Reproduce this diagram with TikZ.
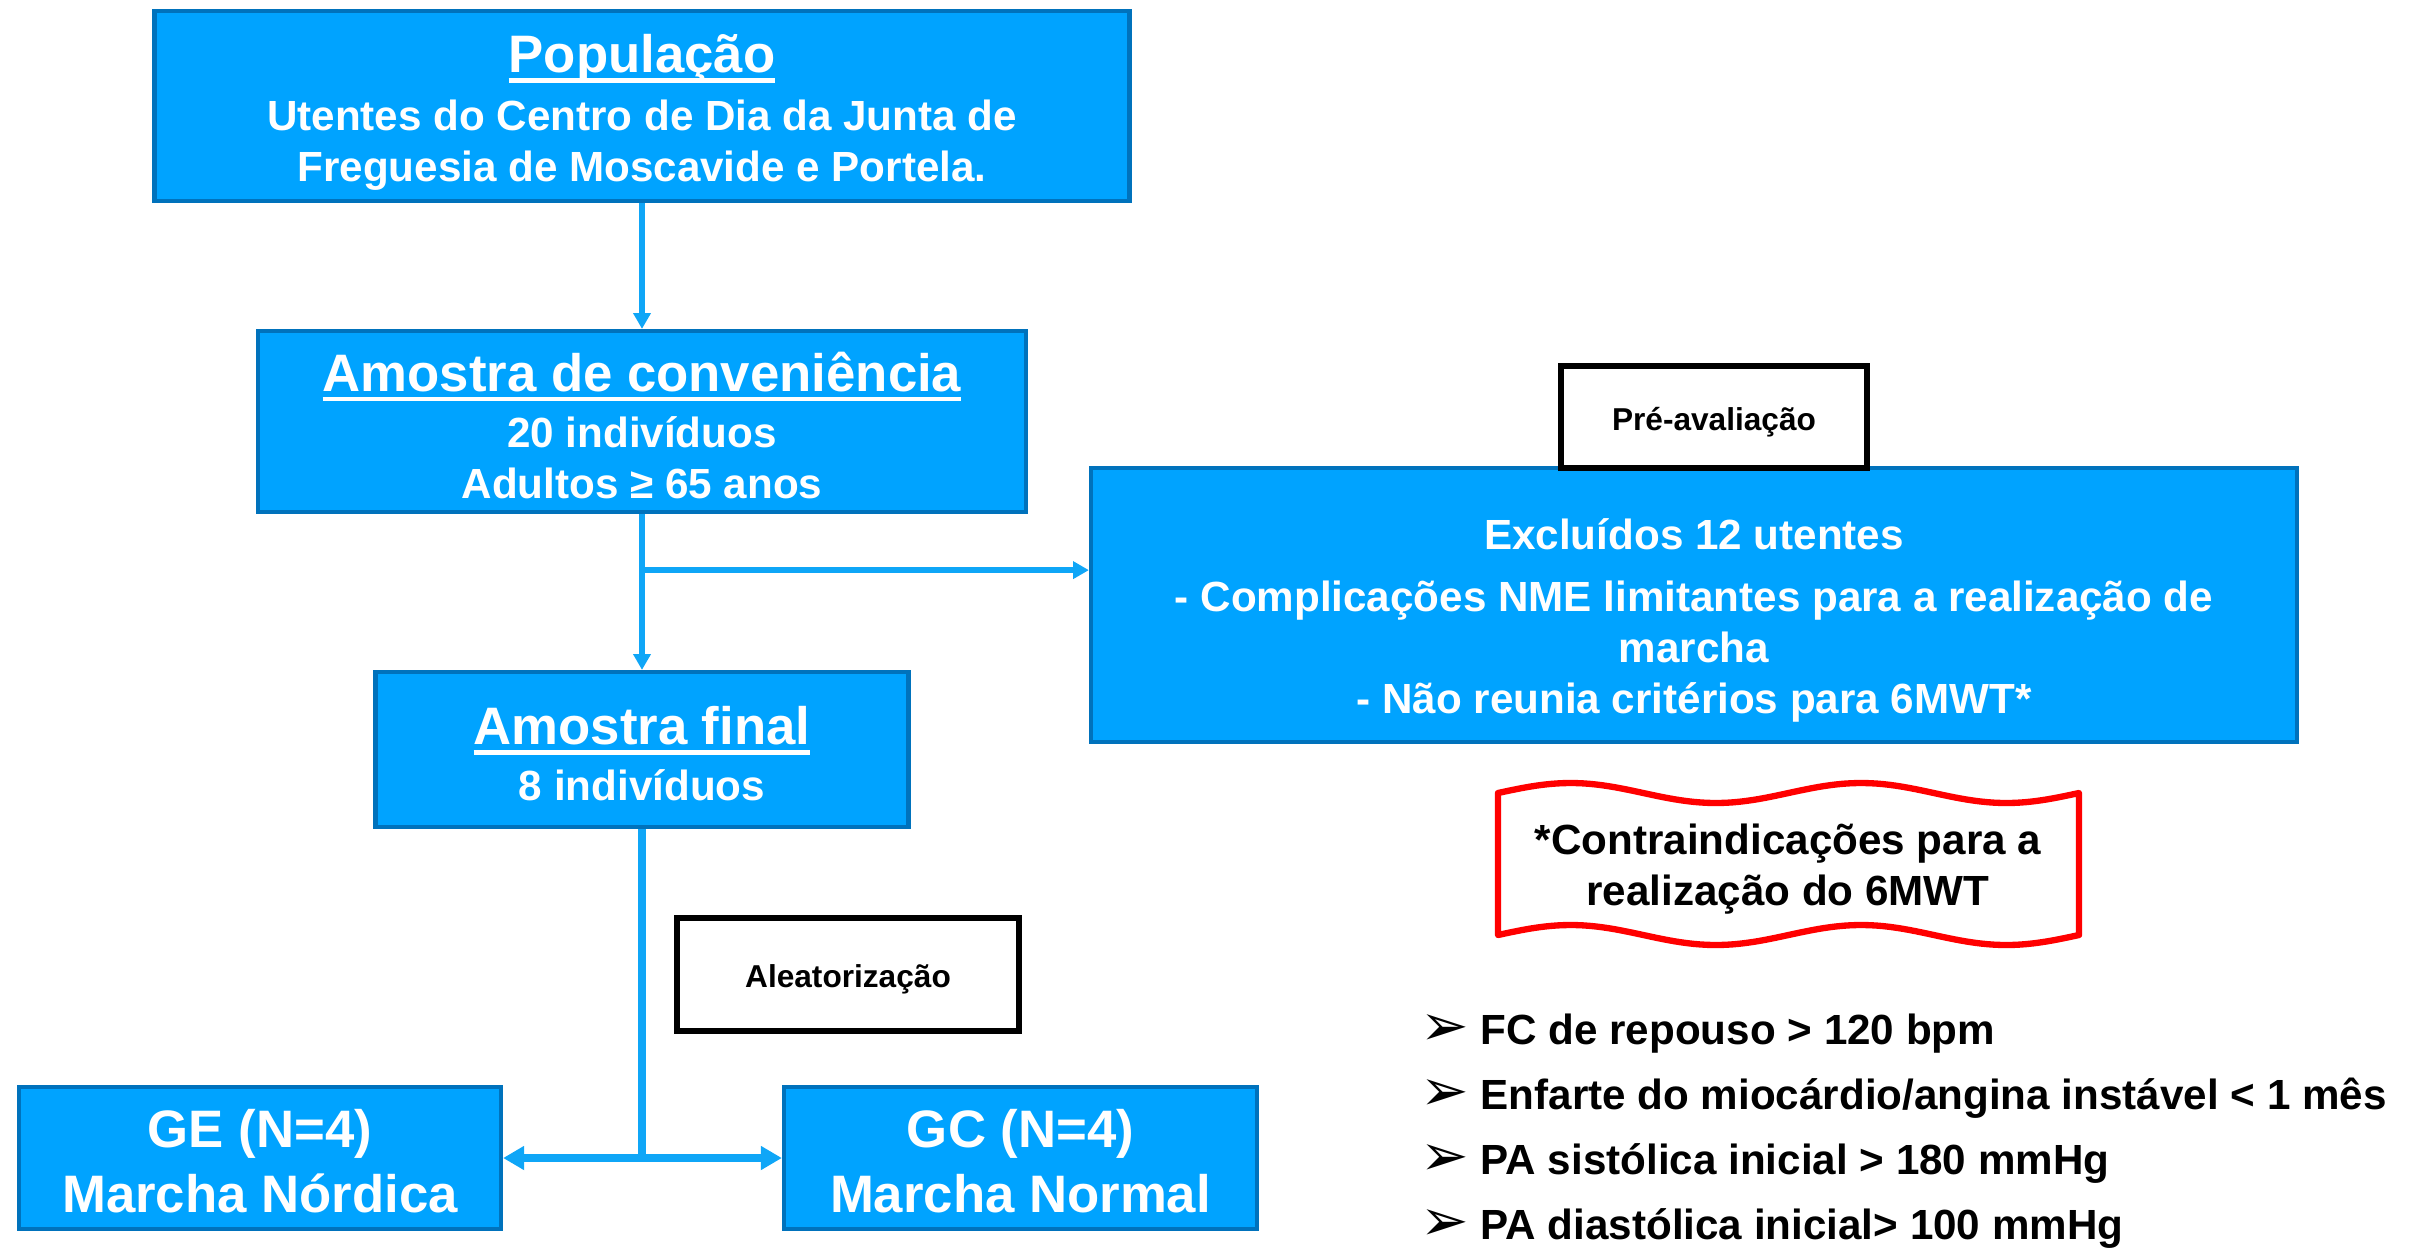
\documentclass[tikz,border=0pt]{standalone}
\usepackage{fontspec}
\setmainfont{Liberation Sans}
\newfontfamily\symfont{DejaVu Sans}
\usepackage{tikz}
\usetikzlibrary{calc,arrows.meta}
\definecolor{boxblue}{HTML}{00A3FF}
\definecolor{edgeblue}{HTML}{0072BC}
\definecolor{lineblue}{HTML}{0FA6F7}
\def\utitle#1{\setbox0\hbox{#1}\rlap{\usebox0}\rule[-2.8pt]{\wd0}{1.3pt}}
\def\topgap#1{\rule{0pt}{#1}}
\def\mark{\makebox[0.60cm][l]{\raisebox{-0.4pt}{\symfont\fontsize{16.5}{16.5}\selectfont ➢}}}
\tikzset{
	bluebox/.style={draw=edgeblue, line width=1.2pt, fill=boxblue, text=white, inner sep=0pt, align=center, font=\fontsize{12}{14.5}\selectfont\bfseries},
	tagbox/.style={draw=black, line width=1.6pt, fill=white, inner sep=0pt, font=\fontsize{9}{11}\selectfont\bfseries},
	flowline/.style={draw=lineblue, line width=1.5pt},
	flowthick/.style={draw=lineblue, line width=2.2pt},
	wavetext/.style={align=center, font=\fontsize{12}{14.5}\selectfont\bfseries},
	bulletline/.style={anchor=base west, inner sep=0pt, font=\fontsize{12}{14.5}\selectfont\bfseries}
}

\begin{document}
\begin{tikzpicture}
			%%%%% START %%%%%
			\useasboundingbox (0, 0) rectangle (24.24, -12.52);
			
			\node[bluebox, minimum width=9.75cm, minimum height=1.90cm] (pop) at (6.42, -1.06) {\topgap{14.6pt}{\fontsize{15}{18}\selectfont\utitle{População}}\\[2pt] Utentes do Centro de Dia da Junta de\\ Freguesia de Moscavide e Portela.};
			
			\node[bluebox, minimum width=7.68cm, minimum height=1.81cm] (conv) at (6.42, -4.215) {\topgap{13.4pt}{\fontsize{15}{18}\selectfont\utitle{Amostra de conveniência}}\\[1.5pt] 20 indivíduos\\ Adultos ≥ 65 anos};
			
			\node[bluebox, minimum width=5.33cm, minimum height=1.55cm] (final) at (6.42, -7.495) {\topgap{13.4pt}{\fontsize{15}{18}\selectfont\utitle{Amostra final}}\\[1.5pt] 8 indivíduos};
			
			\node[bluebox, minimum width=12.06cm, minimum height=2.74cm] (excl) at (16.94, -6.05) {\topgap{17.6pt}Excluídos 12 utentes\\[3pt] - Complicações NME limitantes para a realização de\\ marcha\\ - Não reunia critérios para 6MWT*};
			\node[tagbox, minimum width=3.06cm, minimum height=1.02cm] (pre) at (17.14, -4.17) {\topgap{9.4pt}Pré-avaliação};
			
			\node[tagbox, minimum width=3.42cm, minimum height=1.13cm] (alea) at (8.48, -9.745) {\topgap{9.4pt}Aleatorização};
			
			\node[bluebox, minimum width=4.82cm, minimum height=1.42cm, font=\fontsize{15}{18.5}\selectfont\bfseries] (ge) at (2.60, -11.58) {\topgap{12.8pt}GE (N=4)\\ Marcha Nórdica};
			\node[bluebox, minimum width=4.73cm, minimum height=1.42cm, font=\fontsize{15}{18.5}\selectfont\bfseries] (gc) at (10.205, -11.58) {\topgap{12.8pt}GC (N=4)\\ Marcha Normal};
			
			% connectors
			\draw[flowline, -{Triangle[length=4.5pt, width=4.8pt]}] (pop.south) -- (conv.north);
			\draw[flowline, -{Triangle[length=4.5pt, width=4.8pt]}] (conv.south) -- (final.north);
			\coordinate (split1) at ($(conv.south)+(0, -0.56)$);
			\draw[flowline, -{Triangle[length=4.5pt, width=4.8pt]}] (split1) -- (split1 -| excl.west);
			
			\coordinate (split2) at (final.south |- ge.east);
			\draw[flowthick] (final.south) -- (split2);
			\draw[flowthick, -{Triangle[length=6pt, width=6.5pt]}] (split2) -- (ge.east);
			\draw[flowthick, -{Triangle[length=6pt, width=6.5pt]}] (split2) -- (gc.west);
			
			% wave banner
			\draw[red, line width=1.8pt, line join=round] plot[domain=14.98:20.79, samples=90] (\x, {-7.93+0.10*sin(720*(\x-14.98)/5.81)}) -- plot[domain=20.79:14.98, samples=90] (\x, {-9.35+0.10*sin(720*(\x-14.98)/5.81)}) -- cycle;
			\node[wavetext] (contra) at (17.88, -8.64) {\topgap{11.4pt}*Contraindicações para a\\ realização do 6MWT};
			
			% criteria
			\node[bulletline] (b1) at (14.20, -10.44) {\mark FC de repouso > 120 bpm};
			\node[bulletline] (b2) at (14.20, -11.09) {\mark Enfarte do miocárdio/angina instável < 1 mês};
			\node[bulletline] (b3) at (14.20, -11.74) {\mark PA sistólica inicial > 180 mmHg};
			\node[bulletline] (b4) at (14.20, -12.39) {\mark PA diastólica inicial> 100 mmHg};
			
			%%%%% END %%%%%
\end{tikzpicture}
\end{document}
